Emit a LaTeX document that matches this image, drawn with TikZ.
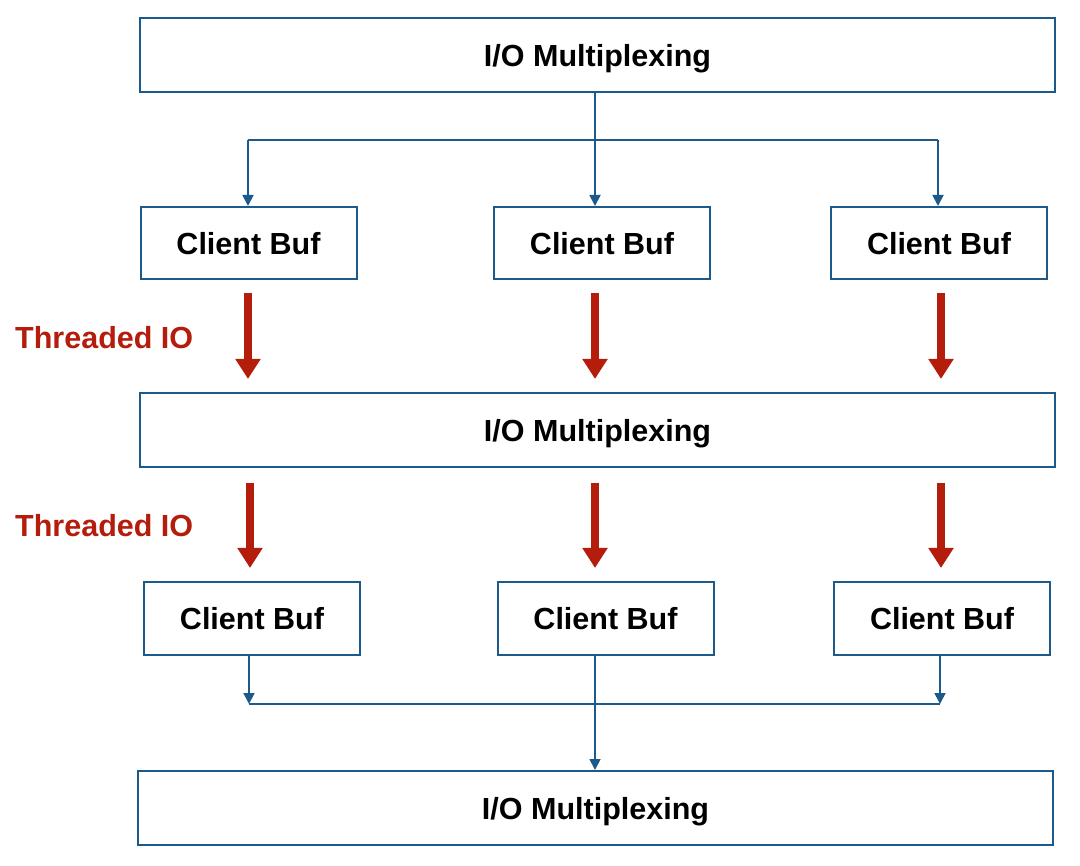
\documentclass[tikz,border=0pt]{standalone}
\usepackage{fontspec}
\setmainfont{Liberation Sans}
\usetikzlibrary{arrows.meta}
\definecolor{lineblue}{HTML}{1D5A8C}
\definecolor{arrred}{HTML}{B41C0C}
\begin{document}
\begin{tikzpicture}[x=1pt,y=-1pt,
  box/.style={draw=lineblue, line width=2pt, fill=white, inner sep=0pt, text depth=0pt,
    font=\fontsize{30.5}{36}\selectfont\bfseries},
  iobox/.style={box, minimum width=915pt, minimum height=74pt},
  bufbox/.style={box, minimum width=216pt, minimum height=72pt},
  conn/.style={draw=lineblue, line width=1.8pt, -{Triangle[width=11pt,length=11pt]}},
  plain/.style={draw=lineblue, line width=1.8pt},
  thick arrow/.style={draw=arrred, line width=7.5pt, -{Triangle[width=24pt,length=20pt]}},
  tlabel/.style={anchor=west, inner sep=0pt, text=arrred, font=\fontsize{30.5}{36}\selectfont\bfseries}
]
\useasboundingbox (0,0) rectangle (1080,866);

% nodes
\node[iobox] (io1) at (597.5,55) {I/O Multiplexing};
\node[bufbox] (b11) at (248.5,243) {Client Buf};
\node[bufbox] (b12) at (602,243) {Client Buf};
\node[bufbox] (b13) at (939,243) {Client Buf};
\node[iobox] (io2) at (597.5,430) {I/O Multiplexing};
\node[bufbox] (b21) at (252,618.5) {Client Buf};
\node[bufbox] (b22) at (605.5,618.5) {Client Buf};
\node[bufbox] (b23) at (942,618.5) {Client Buf};
\node[iobox] (io3) at (595.5,808) {I/O Multiplexing};

\node[tlabel] (t1) at (15,338) {Threaded IO};
\node[tlabel] (t2) at (15,526) {Threaded IO};

% top fan-out
\coordinate (jl) at (248,140);
\coordinate (jm) at (595,140);
\coordinate (jr) at (938,140);
\draw[plain] (jl) -- (jr);
\draw[conn] (io1.south -| jm) -- (jm |- b12.north);
\draw[conn] (jl) -- (jl |- b11.north);
\draw[conn] (jr) -- (jr |- b13.north);

% red arrows row 1
\coordinate (ra1) at (248,293);
\coordinate (ra2) at (595,293);
\coordinate (ra3) at (941,293);
\draw[thick arrow] (ra1) -- (ra1 |- 0,379);
\draw[thick arrow] (ra2) -- (ra2 |- 0,379);
\draw[thick arrow] (ra3) -- (ra3 |- 0,379);

% red arrows row 2
\coordinate (rb1) at (250,483);
\coordinate (rb2) at (595,483);
\coordinate (rb3) at (941,483);
\draw[thick arrow] (rb1) -- (rb1 |- 0,568);
\draw[thick arrow] (rb2) -- (rb2 |- 0,568);
\draw[thick arrow] (rb3) -- (rb3 |- 0,568);

% bottom fan-in
\coordinate (kl) at (249,704);
\coordinate (km) at (595,704);
\coordinate (kr) at (940,704);
\draw[plain] (kl) -- (kr);
\draw[conn] (kl |- b21.south) -- (kl);
\draw[conn] (kr |- b23.south) -- (kr);
\draw[conn] (km |- b22.south) -- (km |- io3.north);
\end{tikzpicture}
\end{document}
